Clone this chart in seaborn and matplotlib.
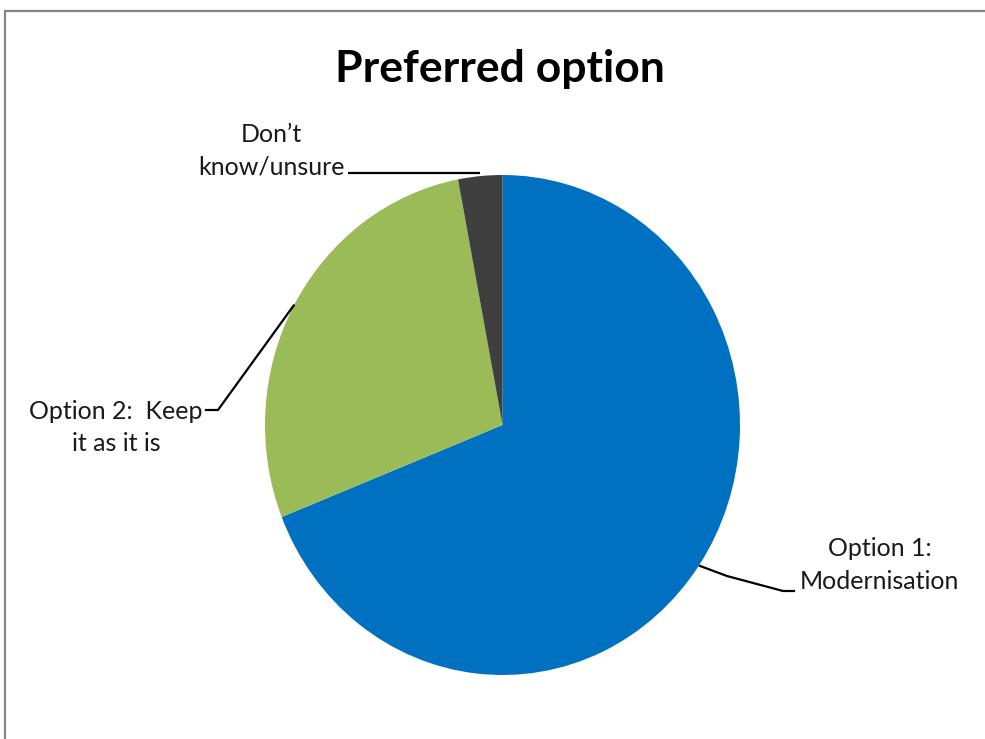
import numpy as np
import matplotlib
matplotlib.use("Agg")
import matplotlib.pyplot as plt
from matplotlib.patches import Rectangle
import seaborn as sns

# Survey responses (share of respondents, %)
categories = ["Option 1:\nModernisation", "Option 2:  Keep\nit as it is", "Don\u2019t\nknow/unsure"]
shares = [69, 28, 3]
colors = ["#0070C0", "#9BBB59", "#3F3F3F"]
title = "Preferred option"

sns.set_theme(style="white")
plt.rcParams["font.family"] = ["Lato", "DejaVu Sans"]

W, H = 985, 739
fig = plt.figure(figsize=(W / 100, H / 100), dpi=100)
fig.patch.set_facecolor("white")

# Pie occupies pixels x 265..740, y 175..675 (slightly taller than wide)
ax = fig.add_axes([265 / W, 1 - 675 / H, 475 / W, 500 / H])
palette = sns.color_palette(colors)
wedges, _ = ax.pie(shares, colors=palette, startangle=90, counterclock=False,
                   wedgeprops=dict(linewidth=0))
ax.set_aspect("auto")
ax.set_xlim(-1, 1)
ax.set_ylim(-1, 1)
ax.axis("off")

# Wedge midpoints on the rim, used as leader-line anchors
mids = []
for w in wedges:
    ang = np.deg2rad((w.theta1 + w.theta2) / 2)
    mids.append((np.cos(ang), np.sin(ang)))

line_kw = dict(color="black", lw=1.6, clip_on=False, solid_capstyle="butt")
label_kw = dict(fontsize=18, color="#1a1a1a", multialignment="center",
                linespacing=1.5, clip_on=False)

# Option 1
mx, my = mids[0]
ax.plot([mx, 0.945, 1.181, 1.232], [my, -0.604, -0.664, -0.664], **line_kw)
ax.text(1.253, -0.56, categories[0], ha="left", va="center", **label_kw)

# Option 2
mx, my = mids[1]
ax.plot([mx, -1.198, -1.253], [my, 0.06, 0.06], **line_kw)
ax.text(-1.262, -0.01, categories[1], ha="right", va="center", **label_kw)

# Don't know
mx, my = mids[2]
ax.plot([mx, -0.65], [1.008, 1.008], **line_kw)
ax.text(-0.663, 1.098, categories[2], ha="right", va="center", **label_kw)

fig.text(500 / W, 1 - 69 / H, title, ha="center", va="center",
         fontsize=32, fontweight="bold", color="black")

# Chart-area border (extends past the right and bottom edges)
fig.add_artist(Rectangle((4.5 / W, -0.2), 2.0, 1.2 - 11.5 / H,
                         transform=fig.transFigure, fill=False,
                         edgecolor="#868686", linewidth=1.6))

fig.savefig("out.png", dpi=100, facecolor="white")
